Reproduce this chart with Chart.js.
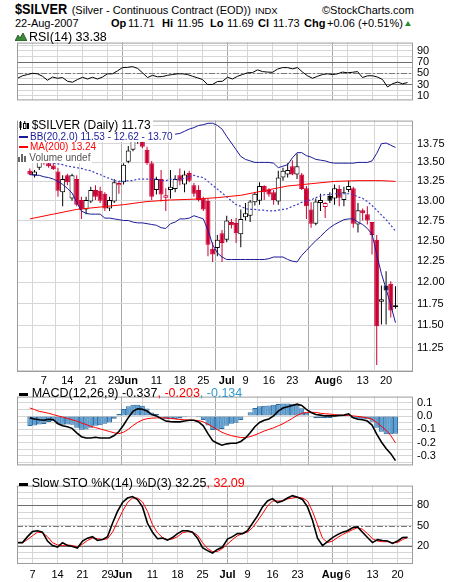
<!DOCTYPE html>
<html><head><meta charset="utf-8"><title>$SILVER</title>
<script src="https://cdn.jsdelivr.net/npm/chart.js@4.4.1/dist/chart.umd.min.js"></script>
<style>
html,body{margin:0;padding:0;background:#fff}
#w{position:relative;width:460px;height:582px;overflow:hidden;font-family:"Liberation Sans",Arial,sans-serif;color:#000}
#w canvas{position:absolute;left:0}
.t{position:absolute;white-space:nowrap;line-height:1}
.b{font-weight:bold}
.lg{position:absolute;white-space:nowrap;line-height:1;background:#fff}
.ic{position:absolute}
</style></head><body><div id="w">
<canvas id="cRsi" width="460" height="79" style="top:32px"></canvas>
<canvas id="cMain" width="460" height="278" style="top:110px"></canvas>
<canvas id="cMacd" width="460" height="90" style="top:386px"></canvas>
<canvas id="cSto" width="460" height="107" style="top:475px"></canvas>

<div class="t b" style="left:15px;top:1.3px;font-size:15px;transform:scaleX(0.85);transform-origin:0 0">$SILVER</div>
<div class="t" style="left:71.7px;top:4.7px;font-size:11px">(Silver - Continuous Contract (EOD))</div>
<div class="t" style="left:255px;top:6px;font-size:9.5px">INDX</div>
<div class="t" style="left:322px;top:4.7px;font-size:11px">©StockCharts.com</div>
<div class="t" style="left:15px;top:18px;font-size:11px">22-Aug-2007</div>
<div class="t b" style="left:111px;top:18px;font-size:11px">Op</div>
<div class="t" style="left:128px;top:18px;font-size:11px">11.71</div>
<div class="t b" style="left:162px;top:18px;font-size:11px">Hi</div>
<div class="t" style="left:177px;top:18px;font-size:11px">11.95</div>
<div class="t b" style="left:210px;top:18px;font-size:11px">Lo</div>
<div class="t" style="left:227px;top:18px;font-size:11px">11.69</div>
<div class="t b" style="left:258px;top:18px;font-size:11px">Cl</div>
<div class="t" style="left:273px;top:18px;font-size:11px">11.73</div>
<div class="t b" style="left:304px;top:18px;font-size:11px">Chg</div>
<div class="t" style="left:327px;top:18px;font-size:11px">+0.06 (+0.51%)</div>
<div style="position:absolute;left:405px;top:21px;width:0;height:0;border-left:3.5px solid transparent;border-right:3.5px solid transparent;border-bottom:5px solid #2e8b2e"></div>

<!-- RSI legend -->
<svg class="ic" style="left:15px;top:33px" width="12" height="8"><polygon points="0,8 3,2 5,5 8,0 12,8" fill="#3a8a3a" stroke="#1d4d1d" stroke-width="0.8"/></svg>
<div class="t" style="left:29px;top:30.6px;font-size:12.5px">RSI(14) 33.38</div>

<!-- main legend -->
<div class="lg" style="left:18px;top:119.1px;font-size:12px;padding:0 2px 1.2px 13.7px">$SILVER (Daily) 11.73</div>
<svg class="ic" style="left:19px;top:121px" width="10" height="9"><rect x="0.5" y="1" width="2" height="6" fill="#000"/><line x1="1.5" y1="0" x2="1.5" y2="9" stroke="#000"/><rect x="4.5" y="2.5" width="2.5" height="5" fill="#fff" stroke="#000" stroke-width="1"/><line x1="5.75" y1="0" x2="5.75" y2="2.5" stroke="#000"/><rect x="8" y="2" width="2" height="6" fill="#000"/></svg>
<div class="lg" style="left:18px;top:132.2px;font-size:10px;color:#1a1a99;padding:0 2px 0 12px">BB(20,2.0) 11.53 - 12.62 - 13.70</div>
<div class="ic" style="left:19px;top:135.5px;width:9px;height:2px;background:#1a1a99"></div>
<div class="lg" style="left:18px;top:142.2px;font-size:10px;color:#ff0000;padding:0 2px 1px 12px">MA(200) 13.24</div>
<div class="ic" style="left:19px;top:145.8px;width:9px;height:2px;background:#ff0000"></div>
<div class="lg" style="left:18px;top:153.2px;font-size:10px;color:#555;padding:0 2px 0 11.3px">Volume undef</div>
<svg class="ic" style="left:18px;top:154px" width="10" height="8"><rect x="0" y="3" width="2" height="5" fill="#666"/><rect x="3" y="0" width="2" height="8" fill="#666"/><rect x="6" y="2" width="2" height="6" fill="#666"/></svg>

<!-- MACD legend -->
<div class="ic" style="left:19px;top:392.5px;width:9px;height:3px;background:#000"></div>
<div class="t" style="left:31.7px;top:387.1px;font-size:12.5px">MACD(12,26,9) -0.337<span style="color:#ff0000">, -0.203</span><span style="color:#3399cc">, -0.134</span></div>

<!-- STO legend -->
<div class="ic" style="left:19px;top:482.5px;width:9px;height:3px;background:#000"></div>
<div class="t" style="left:31.7px;top:477.1px;font-size:12.5px">Slow STO %K(14) %D(3) 32.25<span style="color:#ff0000">, 32.09</span></div>
</div>

<script>
// ---------------- data ----------------
const days = ['05-02','05-03','05-04','05-07','05-08','05-09','05-10','05-11','05-14','05-15',
'05-16','05-17','05-18','05-21','05-22','05-23','05-24','05-25','05-29','05-30',
'05-31','06-01','06-04','06-05','06-06','06-07','06-08','06-11','06-12','06-13',
'06-14','06-15','06-18','06-19','06-20','06-21','06-22','06-25','06-26','06-27',
'06-28','06-29','07-02','07-03','07-05','07-06','07-09','07-10','07-11','07-12',
'07-13','07-16','07-17','07-18','07-19','07-20','07-23','07-24','07-25','07-26',
'07-27','07-30','07-31','08-01','08-02','08-03','08-06','08-07','08-08','08-09',
'08-10','08-13','08-14','08-15','08-16','08-17','08-20','08-21','08-22'];

const xTickDays = ['05-07','05-14','05-21','05-29','06-01','06-11','06-18','06-25','07-02','07-09','07-16','07-23','08-01','08-06','08-13','08-20'];
const xTickLabels = ['7','14','21','29','Jun','11','18','25','Jul','9','16','23','Aug','6','13','20'];

const opens = [13.39,13.33,13.43,13.56,13.49,13.46,13.38,13.11,13.33,13.03,
13.28,13.01,12.89,12.99,13.14,13.13,13.09,12.90,12.99,13.20,
13.24,13.51,13.67,13.78,13.83,13.67,13.49,13.14,13.28,13.04,
13.14,13.15,13.33,13.21,13.36,13.20,13.14,13.03,13.00,12.40,
12.41,12.59,12.51,12.73,12.72,12.58,12.79,12.81,12.98,13.00,
13.19,13.14,13.11,12.99,13.30,13.34,13.45,13.34,13.34,13.16,
12.89,12.71,12.97,12.92,13.06,13.03,13.15,13.01,13.14,13.16,
12.70,12.88,12.83,12.73,12.51,11.77,11.96,11.98,11.71];
const highs = [13.42,13.40,13.57,13.59,13.52,13.50,13.43,13.33,13.35,13.35,
13.33,13.05,13.05,13.18,13.20,13.18,13.11,13.05,13.28,13.26,
13.49,13.72,13.84,13.92,13.88,13.71,13.52,13.31,13.40,13.16,
13.40,13.33,13.42,13.39,13.39,13.23,13.20,13.05,13.03,12.48,
12.57,12.63,12.81,12.77,12.78,12.89,12.97,13.01,13.11,13.24,
13.20,13.16,13.14,13.39,13.43,13.49,13.53,13.62,13.36,13.19,
12.98,13.03,13.09,12.98,13.11,13.21,13.20,13.18,13.26,13.18,
12.97,12.90,12.93,12.73,12.57,11.96,12.13,12.01,11.95];
const lows = [13.33,13.30,13.40,13.47,13.43,13.40,13.05,12.93,13.20,13.00,
12.93,12.77,12.83,12.97,13.01,12.97,12.87,12.87,12.97,13.09,
13.21,13.49,13.65,13.75,13.69,13.47,13.01,13.08,12.99,12.87,
13.03,13.11,13.20,13.11,13.24,13.05,12.99,12.87,12.31,12.24,
12.31,12.24,12.48,12.65,12.47,12.42,12.75,12.73,12.94,12.95,
13.01,13.05,12.95,12.95,13.26,13.30,13.33,13.28,13.14,12.77,
12.66,12.69,12.87,12.78,12.97,12.95,12.93,12.93,13.11,12.66,
12.60,12.75,12.70,12.33,11.06,11.51,11.51,11.59,11.69];
const closes = [13.34,13.38,13.53,13.49,13.45,13.41,13.13,13.28,13.24,13.33,
12.95,12.89,13.01,13.14,13.05,13.00,12.90,13.01,13.24,13.23,
13.47,13.66,13.79,13.84,13.71,13.49,13.05,13.28,13.08,13.07,
13.18,13.28,13.26,13.34,13.26,13.09,13.01,12.89,12.45,12.33,
12.51,12.47,12.75,12.69,12.59,12.77,12.84,12.99,13.09,13.19,
13.11,13.08,13.01,13.30,13.39,13.40,13.34,13.45,13.15,12.93,
12.71,12.99,13.01,12.97,13.00,13.16,13.04,13.11,13.19,12.71,
12.88,12.84,12.75,12.57,11.49,11.80,11.90,11.67,11.73];

const bbUpper = [13.82,13.82,13.83,13.84,13.84,13.84,13.83,13.82,13.80,13.79,
13.79,13.79,13.80,13.80,13.80,13.80,13.80,13.80,13.82,13.83,
13.84,13.87,13.88,13.89,13.89,13.89,13.88,13.88,13.88,13.88,
13.88,13.88,13.89,13.92,13.95,13.97,14.00,14.01,14.03,14.03,
14.00,13.95,13.85,13.76,13.67,13.58,13.54,13.52,13.50,13.50,
13.50,13.50,13.49,13.43,13.45,13.47,13.56,13.63,13.63,13.59,
13.57,13.54,13.53,13.52,13.50,13.49,13.49,13.49,13.49,13.49,
13.50,13.50,13.50,13.52,13.62,13.75,13.76,13.73,13.70];
const bbMid = [13.53,13.53,13.53,13.52,13.50,13.49,13.48,13.47,13.45,13.44,
13.43,13.42,13.40,13.39,13.36,13.34,13.31,13.29,13.26,13.25,
13.25,13.26,13.26,13.28,13.28,13.28,13.28,13.28,13.26,13.26,
13.28,13.28,13.28,13.29,13.31,13.33,13.31,13.30,13.25,13.20,
13.15,13.10,13.05,13.00,12.95,12.93,12.90,12.89,12.89,12.88,
12.88,12.87,12.87,12.88,12.89,12.90,12.93,12.95,12.98,13.00,
13.01,13.04,13.06,13.08,13.08,13.09,13.09,13.09,13.09,13.08,
13.05,13.03,12.99,12.94,12.88,12.82,12.76,12.69,12.62];
const bbLower = [13.34,13.33,13.33,13.31,13.30,13.28,13.25,13.21,13.16,13.10,
12.98,12.87,12.84,12.83,12.83,12.83,12.78,12.78,12.77,12.76,
12.75,12.75,12.73,12.72,12.72,12.71,12.70,12.69,12.66,12.65,
12.71,12.73,12.77,12.77,12.78,12.81,12.79,12.77,12.63,12.45,
12.35,12.30,12.27,12.27,12.27,12.27,12.27,12.27,12.27,12.27,
12.27,12.28,12.30,12.30,12.30,12.27,12.25,12.24,12.32,12.38,
12.44,12.50,12.55,12.61,12.66,12.70,12.73,12.76,12.77,12.77,
12.73,12.70,12.65,12.58,12.33,12.10,11.92,11.73,11.53];

const maDays = ['05-02','05-09','05-16','05-23','05-31','06-07','06-14','06-21','06-28','07-06','07-13','07-20','07-27','08-03','08-10','08-17','08-22'];
const maValues = [12.77,12.83,12.89,12.92,12.95,12.99,13.01,13.02,13.04,13.07,13.13,13.19,13.22,13.25,13.26,13.26,13.25];

const rsi = [41.1,45.6,47.8,50.0,49.1,44.7,37.6,43.3,41.1,42.4,
35.8,34.0,38.9,42.9,39.8,42.9,39.8,43.3,49.1,49.1,
54.4,60.2,60.7,62.0,58.9,50.9,42.4,46.4,43.8,44.2,
46.4,47.8,49.1,49.1,47.8,44.7,42.0,38.9,30.0,30.0,
35.3,35.8,42.9,39.8,44.7,47.8,50.9,51.3,56.2,53.1,
52.2,51.8,57.6,60.2,60.2,58.0,60.2,52.2,45.6,41.1,
44.7,47.8,49.1,47.8,49.1,52.2,50.9,51.8,53.1,42.4,
45.6,45.6,43.3,38.9,25.6,31.3,34.4,31.3,33.38];

const macd = [-0.014,-0.022,-0.028,-0.032,-0.024,-0.028,-0.058,-0.074,-0.081,-0.093,
-0.127,-0.156,-0.166,-0.166,-0.160,-0.166,-0.166,-0.166,-0.147,-0.117,
-0.068,-0.012,0.035,0.055,0.052,0.038,0.011,0.001,-0.018,-0.038,
-0.042,-0.044,-0.044,-0.038,-0.032,-0.032,-0.044,-0.074,-0.133,-0.186,
-0.206,-0.220,-0.210,-0.206,-0.206,-0.192,-0.166,-0.127,-0.081,-0.048,
-0.032,-0.022,0.001,0.037,0.061,0.070,0.080,0.090,0.080,0.051,
0.027,0.011,0.007,0.001,0.001,0.001,0.005,0.007,0.017,-0.014,
-0.024,-0.028,-0.038,-0.068,-0.137,-0.196,-0.245,-0.284,-0.337];
const macdSignal = [0.061,0.049,0.035,0.029,0.021,0.011,0.001,-0.008,-0.018,-0.028,
-0.038,-0.052,-0.064,-0.078,-0.087,-0.097,-0.107,-0.117,-0.127,-0.133,
-0.122,-0.100,-0.072,-0.048,-0.030,-0.020,-0.016,-0.014,-0.013,-0.014,
-0.018,-0.022,-0.026,-0.028,-0.030,-0.032,-0.034,-0.044,-0.062,-0.081,
-0.103,-0.123,-0.137,-0.148,-0.156,-0.162,-0.162,-0.156,-0.143,-0.129,
-0.113,-0.101,-0.089,-0.074,-0.058,-0.038,-0.018,0.005,0.021,0.027,
0.029,0.027,0.021,0.017,0.015,0.011,0.007,0.005,0.005,0.001,
-0.003,-0.008,-0.014,-0.024,-0.048,-0.078,-0.107,-0.147,-0.203];
const macdHist = [-0.075,-0.071,-0.063,-0.061,-0.045,-0.039,-0.059,-0.066,-0.063,-0.065,
-0.089,-0.104,-0.102,-0.088,-0.073,-0.069,-0.059,-0.049,-0.020,0.016,
0.054,0.075,0.085,0.085,0.078,0.058,0.027,0.015,-0.005,-0.024,
-0.024,-0.022,-0.018,-0.010,-0.002,0.000,-0.010,-0.030,-0.071,-0.105,
-0.103,-0.097,-0.073,-0.058,-0.050,-0.030,-0.004,0.029,0.060,0.075,
0.078,0.079,0.085,0.092,0.095,0.095,0.093,0.085,0.059,0.024,
-0.002,-0.016,-0.014,-0.016,-0.014,-0.010,-0.002,0.002,0.012,-0.015,
-0.021,-0.020,-0.024,-0.044,-0.089,-0.118,-0.138,-0.137,-0.134];

const stoK = [24.4,24.4,33.3,40.9,42.2,40.0,26.7,20.0,17.8,24.4,
20.0,18.7,16.4,26.7,31.1,33.3,27.6,28.9,33.3,53.3,
71.1,84.4,91.1,93.3,88.9,77.8,53.3,40.0,30.2,31.1,
28.0,32.0,37.8,42.2,42.2,40.0,31.1,16.9,12.4,8.9,
14.2,17.8,29.8,33.3,37.8,37.8,42.2,53.3,64.4,77.8,
86.7,90.2,84.4,86.7,91.1,94.7,92.4,88.9,77.8,57.8,
31.1,20.0,25.8,32.0,36.4,40.0,42.2,46.7,48.0,40.0,
32.0,24.4,28.9,27.6,26.7,23.1,26.7,32.0,32.25];
const stoD = [24.4,24.4,28.9,34.7,40.0,39.1,33.3,24.4,20.9,20.0,
20.9,20.0,17.8,22.2,27.6,31.1,30.2,28.9,30.2,40.0,
55.6,71.1,84.4,91.1,91.1,85.3,71.1,51.1,39.1,32.0,
28.9,29.8,33.3,39.1,40.9,40.0,35.6,24.4,15.6,11.1,
11.1,15.6,22.2,28.9,34.7,37.8,40.0,46.7,56.9,67.6,
79.1,86.7,86.7,86.7,89.8,91.1,92.4,91.1,86.7,71.1,
51.1,31.1,24.4,26.7,32.0,36.4,40.0,43.6,46.7,44.4,
37.8,30.2,26.7,25.8,25.8,24.4,24.4,28.9,32.09];

const priceTicks = [11.00,11.25,11.50,11.75,12.00,12.25,12.50,12.75,13.00,13.25,13.50,13.75,14.00];
const priceLabeled = [11.25,11.50,11.75,12.00,12.25,12.50,12.75,13.00,13.25,13.50,13.75];
const rsiTicks = [10,20,30,40,50,60,70,80,90,100];
const rsiLabeled = [10,30,50,70,90];
const macdTicks = [0.1,0.05,0,-0.05,-0.1,-0.15,-0.2,-0.25,-0.3,-0.35];
const macdLabeled = [0.1,0,-0.1,-0.2,-0.3];
const stoTicks = [0,10,20,30,40,50,60,70,80,90,100];
const stoLabeled = [20,50,80];

// ---------------- styling / helpers ----------------
const FONT = '"Liberation Sans", Arial, sans-serif';
const GRID = '#d6d6d6', MONTH = '#a8a8a8', FRAME = '#9c9c9c';
const NAVY = '#1a1a99', CRED = '#cc0033';

const xIdx = xTickDays.map(d => days.indexOf(d));
const monthSet = new Set(xTickDays.filter((d,k) => isNaN(+xTickLabels[k])).map(d => days.indexOf(d)));
const idx = days.map((d,i) => i);
const pts = arr => arr.map((v,i) => ({x:i, y:v}));
const has = (list, v) => list.some(t => Math.abs(t - v) < 1e-6);

const candleCol = idx.map(i => (i > 0 ? closes[i] < closes[i-1] : closes[i] < opens[i]) ? CRED : '#000000');
const bodyFill = idx.map(i => closes[i] >= opens[i] ? '#ffffff' : candleCol[i]);

function xScale(show, h, pad) {
  return {
    type: 'linear', min: -0.1, max: 79.1,
    afterBuildTicks: s => { s.ticks = xIdx.map(v => ({value: v})); },
    afterFit: s => { s.height = h; },
    grid: { color: c => (c.tick && monthSet.has(c.tick.value)) ? MONTH : GRID, drawTicks: false, lineWidth: 1 },
    border: { display: false },
    ticks: {
      display: show, autoSkip: false, maxRotation: 0, minRotation: 0, padding: pad, color: '#000',
      font: c => ({ family: FONT, size: 11, weight: (c.tick && monthSet.has(c.tick.value)) ? 'bold' : 'normal' }),
      callback: v => { const k = xIdx.indexOf(v); return k >= 0 ? xTickLabels[k] : ''; }
    }
  };
}
function yScale(type, min, max, ticks, labelFn) {
  return {
    type, position: 'right', min, max,
    afterBuildTicks: s => { s.ticks = ticks.map(v => ({value: v})); },
    afterFit: s => { s.width = 47; },
    grid: { color: GRID, drawTicks: false, lineWidth: 1 },
    border: { display: false },
    ticks: { padding: 4, color: '#000', autoSkip: false, font: { family: FONT, size: 11 }, callback: v => labelFn(v) }
  };
}
const framePlugin = {
  id: 'frame',
  afterDraw(chart) {
    const a = chart.chartArea, c = chart.ctx;
    c.save(); c.strokeStyle = FRAME; c.lineWidth = 1;
    c.strokeRect(a.left + 0.5, a.top + 0.5, a.right - a.left - 1, a.bottom - a.top - 1);
    c.restore();
  }
};
const refPlugin = {
  id: 'refLines',
  beforeDatasetsDraw(chart, args, opts) {
    const y = chart.scales.y, a = chart.chartArea, c = chart.ctx;
    (opts.lines || []).forEach(l => {
      const py = Math.round(y.getPixelForValue(l.v)) + 0.5;
      c.save(); c.strokeStyle = l.color; c.lineWidth = 1; c.setLineDash(l.dash || []);
      c.beginPath(); c.moveTo(a.left, py); c.lineTo(a.right, py); c.stroke(); c.restore();
    });
  }
};
function baseOptions(x, y, bottomPad, lines) {
  return {
    responsive: false, animation: false, events: [],
    layout: { padding: { left: 17, right: 0, top: 1, bottom: bottomPad } },
    scales: { x, y },
    plugins: { legend: { display: false }, tooltip: { enabled: false }, refLines: { lines: lines || [] } }
  };
}
const lineDs = (data, color, width, extra) => Object.assign({ type: 'line', data, borderColor: color, borderWidth: width, pointRadius: 0, fill: false, tension: 0 }, extra || {});

// ---------------- RSI ----------------
new Chart(document.getElementById('cRsi'), {
  type: 'line',
  data: { datasets: [ lineDs(pts(rsi), '#000', 1) ] },
  options: baseOptions(xScale(false, 0, 0),
    yScale('linear', 1.5, 105, rsiTicks, v => has(rsiLabeled, v) ? String(v) : ''), 1,
    [{v:70, color:'#6e6e6e'}, {v:30, color:'#6e6e6e'}, {v:50, color:'#7a7a7a', dash:[6,2,2,2]}]),
  plugins: [framePlugin, refPlugin]
});

// ---------------- Price ----------------
new Chart(document.getElementById('cMain'), {
  type: 'bar',
  data: { datasets: [
    lineDs(pts(bbUpper), NAVY, 1, {order: 1}),
    lineDs(pts(bbLower), NAVY, 1, {order: 1}),
    lineDs(pts(bbMid), '#3d3dc8', 1.2, {order: 1, borderDash: [2, 2]}),
    lineDs(maDays.map((d,k) => ({x: days.indexOf(d), y: maValues[k]})), '#ff0000', 1, {order: 1}),
    { type: 'bar', data: idx.map(i => ({x: i, y: [opens[i], closes[i]]})), backgroundColor: bodyFill, borderColor: candleCol,
      borderWidth: 1, borderSkipped: false, barThickness: 5, grouped: false, inflateAmount: 0, order: 2 },
    { type: 'bar', data: idx.map(i => ({x: i, y: [lows[i], highs[i]]})), backgroundColor: candleCol,
      borderWidth: 0, barThickness: 1, grouped: false, inflateAmount: 0, order: 3 }
  ]},
  options: baseOptions(xScale(true, 15, 2),
    yScale('logarithmic', 10.984, 14.067, priceTicks, v => has(priceLabeled, v) ? v.toFixed(2) : ''), 1),
  plugins: [framePlugin, refPlugin]
});

// ---------------- MACD ----------------
new Chart(document.getElementById('cMacd'), {
  type: 'bar',
  data: { datasets: [
    lineDs(pts(macd), '#000', 1.6, {order: 1}),
    lineDs(pts(macdSignal), '#ff0000', 1, {order: 2}),
    { type: 'bar', data: pts(macdHist), backgroundColor: '#5b9fd4', borderColor: '#2f6a9c', borderWidth: 1,
      borderSkipped: false, barThickness: 5, inflateAmount: 0, order: 3 }
  ]},
  options: baseOptions(xScale(false, 0, 0),
    yScale('linear', -0.373, 0.147, macdTicks, v => has(macdLabeled, v) ? (Math.abs(v) < 1e-9 ? '0.0' : v.toFixed(1)) : ''), 1),
  plugins: [framePlugin, refPlugin]
});

// ---------------- Slow STO ----------------
new Chart(document.getElementById('cSto'), {
  type: 'line',
  data: { datasets: [
    lineDs(pts(stoD), '#ff0000', 1, {order: 2}),
    lineDs(pts(stoK), '#000', 1.6, {order: 1})
  ]},
  options: baseOptions(xScale(true, 18, 4),
    yScale('linear', -7.6, 109.7, stoTicks, v => has(stoLabeled, v) ? String(v) : ''), 0,
    [{v:80, color:'#6e6e6e'}, {v:20, color:'#6e6e6e'}, {v:50, color:'#7a7a7a', dash:[6,2,2,2]}]),
  plugins: [framePlugin, refPlugin]
});
</script>
</body></html>
